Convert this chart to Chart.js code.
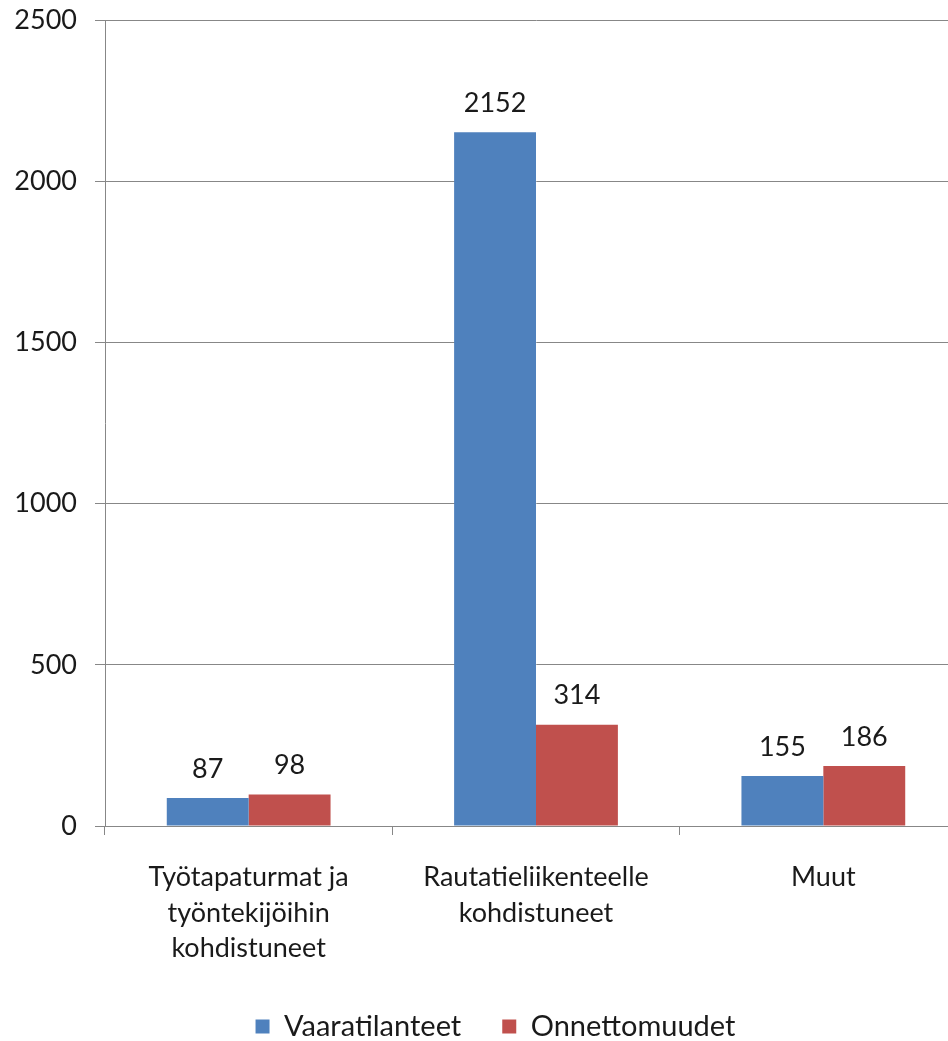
<!DOCTYPE html>
<html>
<head>
<meta charset="utf-8">
<script src="https://cdn.jsdelivr.net/npm/chart.js@4/dist/chart.umd.min.js"></script>
<style>
  html, body { margin: 0; padding: 0; background: #fff; overflow: hidden; }
  #wrap { position: relative; width: 967px; height: 1041px; }
</style>
</head>
<body>
<div id="wrap"><canvas id="chart"></canvas></div>
<script>
// chart data
const categories = [
  ['Työtapaturmat ja', 'työntekijöihin', 'kohdistuneet'],
  ['Rautatieliikenteelle', 'kohdistuneet'],
  ['Muut']
];
const seriesNames = ['Vaaratilanteet', 'Onnettomuudet'];
const vaaratilanteet = [87, 2152, 155];
const onnettomuudet = [98, 314, 186];
const yTicks = [0, 500, 1000, 1500, 2000, 2500];

const FONT = 'Lato, "Open Sans", sans-serif';
const gridColor = '#878787';

// draws the value above each bar
const valueLabels = {
  id: 'valueLabels',
  afterDatasetsDraw(chart) {
    const ctx = chart.ctx;
    ctx.save();
    ctx.font = '27px ' + FONT;
    ctx.fillStyle = '#1a1a1a';
    ctx.textAlign = 'center';
    ctx.textBaseline = 'middle';
    chart.data.datasets.forEach((ds, i) => {
      chart.getDatasetMeta(i).data.forEach((bar, j) => {
        ctx.fillText(String(ds.data[j]), bar.x, bar.y - 29);
      });
    });
    ctx.restore();
  }
};

// the original legend sits a bit right of the canvas centre
const legendShift = {
  id: 'legendShift',
  afterLayout(chart) {
    if (!chart.legend) return;
    chart.legend.left += 12;
    chart.legend.right += 12;
  }
};

new Chart(document.getElementById('chart'), {
  type: 'bar',
  data: {
    labels: categories,
    datasets: [
      { label: seriesNames[0], data: vaaratilanteet, backgroundColor: '#4F81BD' },
      { label: seriesNames[1], data: onnettomuudet, backgroundColor: '#C0504D' }
    ]
  },
  options: {
    responsive: true,
    maintainAspectRatio: false,
    animation: false,
    layout: { padding: { top: 20, right: 0, left: 0, bottom: -10 } },
    datasets: { bar: { categoryPercentage: 0.57, barPercentage: 1.0 } },
    plugins: {
      tooltip: { enabled: false },
      legend: {
        position: 'bottom',
        labels: {
          font: { family: FONT, size: 29 },
          color: '#1a1a1a',
          boxWidth: 14,
          boxHeight: 14,
          padding: 41
        }
      }
    },
    scales: {
      x: {
        grid: { offset: true, drawOnChartArea: false, color: gridColor, tickLength: 9 },
        border: { color: gridColor },
        ticks: {
          font: { family: FONT, size: 27, lineHeight: 1.33 },
          color: '#1a1a1a',
          maxRotation: 0,
          padding: 24
        },
        afterFit(scale) { scale.height = 145; }
      },
      y: {
        min: 0,
        max: 2500,
        afterBuildTicks(scale) { scale.ticks = yTicks.map(v => ({ value: v })); },
        grid: { color: gridColor, tickLength: 10 },
        border: { color: gridColor },
        ticks: {
          font: { family: FONT, size: 27 },
          color: '#1a1a1a',
          padding: 18,
          callback: (v) => String(v)
        },
        afterFit(scale) {
          scale.width = 105;
          scale.paddingTop = 0;
          scale.paddingBottom = 0;
        }
      }
    }
  },
  plugins: [valueLabels, legendShift]
});
</script>
</body>
</html>
